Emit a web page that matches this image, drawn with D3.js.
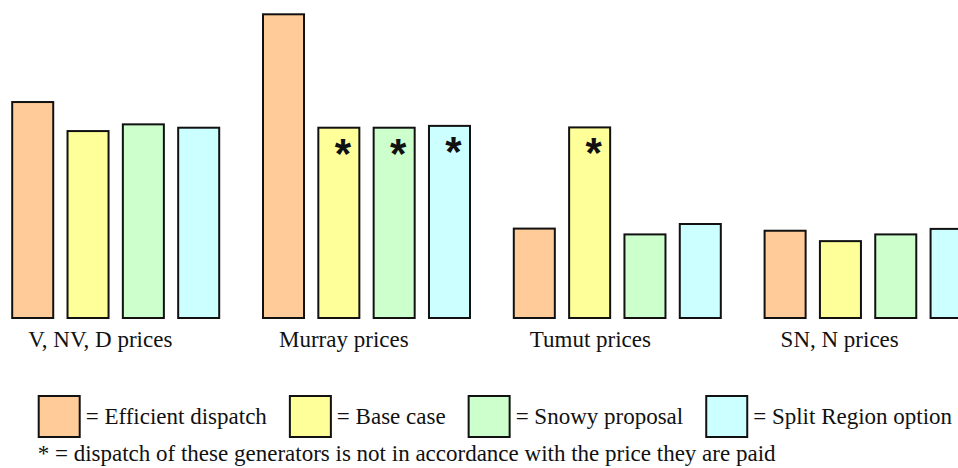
<!DOCTYPE html>
<html>
<head>
<meta charset="utf-8">
<script src="https://cdn.jsdelivr.net/npm/d3@7"></script>
<style>
  html, body { margin: 0; padding: 0; background: #fff; overflow: hidden; }
  svg { display: block; }
</style>
</head>
<body>
<svg id="chart" width="958" height="468"></svg>
<script>
// Region price groups and the four market designs compared in each
const groups = ["V, NV, D prices", "Murray prices", "Tumut prices", "SN, N prices"];
const series = ["Efficient dispatch", "Base case", "Snowy proposal", "Split Region option"];
const colors = ["#FFCC99", "#FFFF99", "#CCFFCC", "#CCFFFF"];

// Relative price level of each series, one entry per group
const efficientDispatch = [71.3, 100, 29.9, 29.2];
const baseCase          = [61.8, 62.9, 63.0, 25.8];
const snowyProposal     = [64.0, 62.9, 28.0, 28.0];
const splitRegion       = [62.9, 63.5, 31.4, 29.8];

// Groups where dispatch is out of line with the price paid
const flagEfficient = [false, false, false, false];
const flagBase      = [false, true,  true,  false];
const flagSnowy     = [false, true,  false, false];
const flagSplit     = [false, true,  false, false];

const footnote = "* = dispatch of these generators is not in accordance with the price they are paid";

const valueLists = [efficientDispatch, baseCase, snowyProposal, splitRegion];
const flagLists = [flagEfficient, flagBase, flagSnowy, flagSplit];

const SERIF = "'Liberation Serif', monospace";
const SANS = "'Liberation Sans', monospace";

// Touch the fonts once so they are ready before the text is laid out
const probe = document.createElement("canvas").getContext("2d");
[SERIF, SANS].forEach(f => {
  probe.font = "23px " + f; probe.measureText("Efficient dispatch");
  probe.font = "bold 40px " + f; probe.measureText("*");
});

function draw() {
  const svg = d3.select("#chart");
  svg.selectAll("*").remove();
  const baseY = 319;

  const x0 = d3.scaleBand()
    .domain(groups)
    .range([11.2, 11.2 + 4 * 250.8])
    .paddingInner(0)
    .paddingOuter(0);

  const x1 = d3.scaleBand()
    .domain(series)
    .range([0, 209])
    .paddingInner(0.2224)
    .paddingOuter(0);

  const y = d3.scaleLinear().domain([0, 100]).range([baseY, 13.3]);

  const sw = 2;
  const bars = [];
  groups.forEach((g, gi) => {
    series.forEach((s, si) => {
      bars.push({ group: g, series: s, si, value: valueLists[si][gi], flag: flagLists[si][gi] });
    });
  });

  const gBars = svg.append("g");
  gBars.selectAll("rect")
    .data(bars)
    .join("rect")
    .attr("x", d => x0(d.group) + x1(d.series) + sw / 2)
    .attr("y", d => y(d.value) + sw / 2)
    .attr("width", x1.bandwidth() - sw)
    .attr("height", d => baseY - y(d.value) - sw)
    .attr("fill", d => colors[d.si])
    .attr("stroke", "#111")
    .attr("stroke-width", sw);

  // Asterisks on bars whose dispatch does not follow the price
  gBars.selectAll("text.star")
    .data(bars.filter(d => d.flag))
    .join("text")
    .attr("class", "star")
    .attr("x", d => x0(d.group) + x1(d.series) + x1.bandwidth() / 2 + 4)
    .attr("y", d => y(d.value) + 41)
    .attr("text-anchor", "middle")
    .attr("font-family", SANS)
    .attr("font-weight", "bold")
    .attr("font-size", 42)
    .attr("fill", "#111")
    .text("*");

  // Group labels under the bars
  svg.append("g").selectAll("text")
    .data(groups)
    .join("text")
    .attr("x", d => x0(d) + 17)
    .attr("y", 347)
    .attr("font-family", SERIF)
    .attr("font-size", 23)
    .attr("fill", "#111")
    .text(d => d);

  // Legend laid out in a single row
  const legend = svg.append("g");
  let lx = 37.7;
  const swSize = 43;
  series.forEach((s, i) => {
    legend.append("rect")
      .attr("x", lx + sw / 2)
      .attr("y", 395 + sw / 2)
      .attr("width", swSize - sw)
      .attr("height", swSize - sw)
      .attr("fill", colors[i])
      .attr("stroke", "#111")
      .attr("stroke-width", sw);
    const t = legend.append("text")
      .attr("x", lx + swSize + 5)
      .attr("y", 424.3)
      .attr("font-family", SERIF)
      .attr("font-size", 23)
      .attr("fill", "#111")
      .text("= " + s);
    lx = lx + swSize + 5 + t.node().getComputedTextLength() + 22;
  });

  legend.append("text")
    .attr("x", 37.7)
    .attr("y", 461.3)
    .attr("font-family", SERIF)
    .attr("font-size", 23)
    .attr("fill", "#111")
    .text(footnote);
}

draw();
if (document.fonts && document.fonts.load) {
  Promise.all([
    document.fonts.load("23px 'Liberation Serif'"),
    document.fonts.load("bold 42px 'Liberation Sans'")
  ]).then(draw, () => {});
}
</script>
</body>
</html>
